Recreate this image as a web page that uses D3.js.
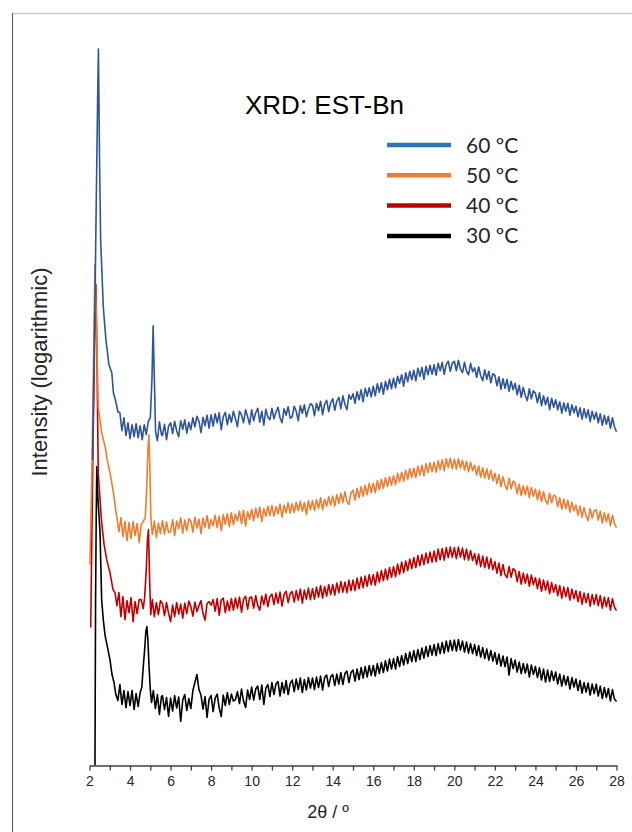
<!DOCTYPE html>
<html>
<head>
<meta charset="utf-8">
<script src="https://cdn.jsdelivr.net/npm/d3@7"></script>
<style>
  html, body { margin: 0; padding: 0; background: #fff; }
  svg { display: block; }
  .axis path, .axis line { stroke: #404040; }
  .axis text { font-family: "Liberation Sans", Arial, sans-serif; font-size: 14px; fill: #262626; }
</style>
</head>
<body>
<div id="chart"></div>
<script>
// 2θ ticks and legend entries
const X_TICKS = [2, 4, 6, 8, 10, 12, 14, 16, 18, 20, 22, 24, 26, 28];
const SERIES_NAMES = ['60 ºC', '50 ºC', '40 ºC', '30 ºC'];
const SERIES_COLORS = ['#2f5597', '#ed7d31', '#c00000', '#000000'];
const LEGEND_COLORS = ['#2e75b6', '#ed7d31', '#c00000', '#000000'];

// Low-angle part of each trace, [2θ, log intensity (offset, a.u.)]
const low60 = [[2.15, 61.2], [2.27, 93.2], [2.40, 133.2], [2.44, 143.4], [2.49, 123.2], [2.55, 105.2],
  [2.68, 91.8], [2.81, 85.2], [2.96, 80.2], [3.10, 78.6], [3.18, 74.6], [3.3, 72.8], [3.4, 70.8],
  [3.5, 70.6], [3.6, 67.0], [3.7, 69.6], [3.8, 66.0], [3.9, 68.6], [4.0, 65.4], [4.1, 68.2],
  [4.2, 65.8], [4.3, 68.4], [4.4, 65.6], [4.5, 68.0], [4.6, 65.2], [4.7, 68.2], [4.8, 66.2],
  [4.9, 68.8], [5.0, 69.6], [5.08, 77.2], [5.14, 88.0], [5.2, 77.2], [5.26, 66.8], [5.35, 65.0],
  [5.45, 68.8], [5.55, 66.2]];
const low50 = [[2.02, 40.2], [2.12, 59.2], [2.22, 87.2], [2.27, 100.2], [2.35, 87.2], [2.43, 71.8],
  [2.60, 66.6], [2.77, 63.8], [2.89, 60.8], [3.01, 58.6], [3.18, 54.6], [3.34, 49.8], [3.45, 46.8],
  [3.55, 49.6], [3.65, 45.8], [3.75, 48.8], [3.85, 45.0], [3.95, 48.6], [4.05, 45.4], [4.15, 48.8],
  [4.25, 46.0], [4.35, 48.4], [4.45, 44.6], [4.55, 48.2], [4.65, 48.8], [4.75, 49.6], [4.82, 55.2],
  [4.88, 63.2], [4.93, 66.2], [4.98, 59.2], [5.03, 49.2], [5.1, 46.2], [5.2, 48.9], [5.3, 45.6],
  [5.4, 48.5], [5.5, 46.4]];
const low40 = [[2.06, 27.6], [2.17, 63.2], [2.27, 89.2], [2.32, 96.2], [2.37, 81.2], [2.43, 58.6],
  [2.52, 53.2], [2.60, 48.6], [2.72, 44.2], [2.85, 41.2], [3.01, 38.6], [3.16, 35.2], [3.26, 34.6],
  [3.35, 32.0], [3.45, 34.6], [3.55, 29.8], [3.65, 33.8], [3.75, 29.2], [3.85, 33.0], [3.95, 30.6],
  [4.05, 33.6], [4.15, 28.8], [4.25, 32.8], [4.35, 30.4], [4.45, 33.2], [4.55, 33.2], [4.65, 31.4],
  [4.72, 33.6], [4.8, 39.2], [4.86, 45.2], [4.91, 47.2], [4.96, 38.2], [5.02, 30.2], [5.1, 33.2],
  [5.2, 29.8], [5.3, 32.6], [5.4, 30.2], [5.5, 33.0]];
const low30 = [[2.27, 0], [2.30, 33.2], [2.33, 49.2], [2.36, 59.8], [2.42, 53.2], [2.52, 46.6],
  [2.60, 33.2], [2.68, 29.2], [2.77, 26.0], [2.89, 23.6], [3.01, 21.2], [3.11, 18.2], [3.21, 16.6],
  [3.3, 14.2], [3.4, 13.0], [3.5, 16.2], [3.6, 12.2], [3.7, 15.0], [3.8, 11.6], [3.9, 14.8],
  [4.0, 12.0], [4.1, 15.0], [4.2, 11.2], [4.3, 14.4], [4.4, 11.8], [4.5, 14.6], [4.58, 15.6],
  [4.65, 19.6], [4.72, 23.2], [4.78, 26.8], [4.83, 27.8], [4.88, 25.2], [4.94, 19.6], [5.0, 15.2],
  [5.06, 12.6], [5.15, 15.0], [5.25, 11.4], [5.35, 14.2], [5.45, 10.2], [5.55, 13.8]];

// Rest of each trace, read every 0.1° from 5.6° to 28.0°
const BASE_START = 5.6;
const BASE_STEP = 0.1;
const base60 = [
  66.0, 68.3, 65.2, 67.9,
  68.6, 66.4, 68.9, 67.0, 65.8, 69.0, 67.3, 69.2, 66.5, 68.7,
  67.2, 69.6, 67.8, 69.9, 68.9, 66.6, 69.7, 68.0, 70.1, 67.5,
  70.2, 67.9, 70.4, 68.6, 70.6, 67.2, 69.8, 70.7, 68.2, 70.3,
  68.7, 70.9, 69.4, 67.8, 70.9, 70.1, 68.6, 71.2, 69.8, 68.3,
  71.2, 69.0, 70.6, 71.5, 68.7, 70.9, 68.1, 71.3, 69.7, 69.2,
  71.5, 69.4, 70.7, 71.7, 69.6, 68.6, 71.4, 70.1, 71.8, 69.5,
  69.8, 71.9, 70.9, 69.0, 72.0, 70.5, 72.2, 69.8, 71.3, 72.4,
  72.1, 70.0, 72.5, 71.0, 72.9, 70.2, 72.3, 73.1, 70.8, 72.6,
  73.4, 71.1, 72.9, 73.7, 71.4, 74.0, 72.3, 71.2, 74.2, 73.3,
  74.4, 72.5, 74.8, 73.2, 75.2, 72.8, 75.5, 73.9, 75.6, 73.8,
  75.9, 74.0, 76.4, 74.7, 76.6, 74.3, 76.9, 75.2, 77.3, 75.4,
  77.5, 75.6, 77.9, 76.5, 78.2, 75.9, 78.6, 76.8, 78.9, 77.2,
  79.1, 77.0, 79.5, 77.9, 79.7, 77.3, 79.9, 78.2, 80.1, 78.3,
  80.2, 78.1, 80.5, 79.0, 80.7, 78.3, 80.3, 80.9, 78.9, 80.6,
  80.9, 79.0, 81.1, 79.4, 78.6, 80.7, 78.9, 78.2, 80.5, 78.8,
  79.6, 77.7, 79.8, 78.0, 77.0, 79.2, 77.3, 78.9, 76.6, 78.4,
  78.1, 76.0, 77.8, 75.3, 77.4, 75.5, 77.3, 74.9, 76.9, 75.2,
  76.5, 74.2, 76.1, 73.7, 75.7, 74.0, 73.0, 75.4, 73.4, 75.0,
  74.5, 72.6, 74.6, 72.0, 74.0, 72.2, 73.7, 71.2, 73.5, 71.7,
  73.2, 71.2, 72.8, 70.5, 72.6, 70.9, 72.5, 70.1, 72.2, 70.6,
  71.9, 69.8, 71.6, 69.3, 71.4, 69.6, 71.2, 68.8, 70.9, 69.3,
  70.7, 68.6, 70.4, 68.1, 70.1, 68.3, 69.9, 67.5, 69.6, 67.8,
  66.8];
const base50 = [
  49.0, 46.3, 48.7, 46.6,
  46.8, 49.2, 46.0, 48.9, 47.4, 49.6, 46.5, 49.1, 47.0, 49.4,
  48.9, 46.7, 49.7, 47.5, 49.3, 46.4, 49.5, 47.7, 50.0, 47.4,
  49.2, 48.0, 50.1, 47.6, 49.9, 47.0, 50.2, 48.3, 50.4, 47.8,
  50.6, 48.2, 50.3, 49.0, 50.9, 48.4, 51.1, 47.9, 50.8, 49.3,
  51.3, 49.0, 51.5, 49.6, 51.7, 48.8, 51.4, 49.9, 51.9, 50.0,
  52.0, 49.9, 51.8, 50.4, 52.3, 49.7, 52.1, 50.6, 52.6, 50.5,
  52.4, 50.6, 52.7, 51.0, 52.9, 50.9, 52.6, 50.2, 53.0, 51.2,
  53.0, 51.0, 53.2, 51.4, 53.6, 51.2, 53.3, 51.9, 53.8, 52.1,
  53.9, 51.9, 54.2, 52.4, 54.5, 52.6, 54.8, 52.9, 52.2, 54.6,
  55.1, 53.1, 55.5, 53.6, 55.8, 53.9, 56.1, 54.2, 56.5, 54.6,
  56.5, 54.6, 57.0, 55.2, 57.3, 55.5, 57.6, 55.8, 57.8, 56.1,
  58.0, 56.2, 58.5, 56.8, 58.7, 56.9, 59.1, 57.3, 59.4, 57.7,
  59.5, 57.6, 59.9, 58.1, 60.1, 58.0, 60.4, 58.6, 60.6, 58.8,
  60.7, 58.7, 61.0, 59.2, 61.2, 59.0, 61.4, 59.6, 61.5, 59.4,
  61.3, 59.3, 61.4, 59.5, 61.1, 59.1, 60.9, 58.8, 60.7, 59.0,
  60.1, 58.1, 60.0, 57.7, 59.6, 57.5, 59.4, 57.3, 59.1, 57.0,
  58.5, 56.4, 58.2, 55.8, 57.8, 56.1, 55.2, 57.5, 55.4, 56.9,
  56.5, 54.4, 56.3, 54.0, 56.0, 54.2, 55.9, 53.6, 55.6, 53.9,
  55.3, 53.2, 55.1, 52.8, 54.8, 53.0, 52.3, 54.5, 52.6, 54.1,
  53.9, 51.8, 53.6, 51.3, 53.3, 51.4, 53.1, 50.7, 52.7, 51.0,
  52.1, 50.1, 51.9, 49.7, 51.6, 49.9, 49.0, 51.4, 49.5, 51.0,
  51.2, 49.1, 50.9, 48.5, 50.6, 48.8, 50.4, 48.0, 50.1, 48.4,
  47.6];
const base40 = [
  32.4, 30.0, 32.6, 30.5,
  28.8, 32.1, 29.8, 32.6, 30.3, 32.3, 29.5, 32.5, 30.4, 32.9,
  31.8, 29.9, 32.7, 30.8, 32.0, 33.0, 30.4, 29.1, 32.4, 32.8,
  32.1, 33.2, 30.9, 33.4, 30.1, 33.1, 33.5, 30.6, 32.9, 31.0,
  33.4, 31.1, 33.5, 31.5, 33.7, 30.7, 33.3, 33.9, 31.3, 33.6,
  33.7, 31.5, 34.0, 32.0, 31.1, 33.9, 32.2, 34.3, 31.8, 33.8,
  34.3, 32.2, 34.5, 32.5, 34.7, 31.9, 34.2, 34.9, 32.6, 34.4,
  34.8, 32.7, 35.0, 33.1, 35.3, 32.5, 35.1, 33.3, 35.5, 33.2,
  35.4, 33.3, 35.7, 33.7, 36.0, 33.5, 35.8, 33.9, 36.2, 34.2,
  36.2, 34.1, 36.5, 34.6, 36.8, 34.7, 36.7, 34.6, 37.1, 35.0,
  37.1, 35.0, 37.5, 35.4, 37.7, 35.6, 37.9, 35.9, 38.2, 36.2,
  38.2, 36.1, 38.7, 36.7, 39.0, 37.0, 39.3, 37.2, 39.6, 37.7,
  39.8, 37.8, 40.3, 38.3, 40.7, 38.6, 40.9, 39.0, 41.3, 39.4,
  41.6, 39.6, 42.0, 40.0, 42.2, 40.2, 42.5, 40.5, 42.7, 40.7,
  42.9, 40.8, 43.3, 41.2, 43.4, 41.1, 43.6, 41.6, 43.7, 41.7,
  43.6, 41.4, 43.7, 41.7, 43.5, 41.2, 43.3, 41.1, 43.0, 41.0,
  42.4, 40.2, 42.3, 39.8, 41.9, 39.6, 41.7, 39.4, 41.4, 39.2,
  40.8, 38.5, 40.5, 38.0, 40.2, 38.2, 37.6, 39.8, 37.7, 39.4,
  39.0, 36.8, 38.8, 36.3, 38.5, 36.5, 38.3, 35.9, 38.1, 36.2,
  37.6, 35.4, 37.4, 34.9, 37.1, 35.1, 36.9, 34.4, 36.6, 34.7,
  36.2, 34.0, 36.0, 33.5, 35.7, 33.8, 35.6, 33.1, 35.3, 33.4,
  35.0, 32.8, 34.8, 32.3, 34.5, 32.6, 34.4, 31.9, 34.2, 32.3,
  34.2, 32.0, 34.0, 31.5, 33.7, 31.8, 33.6, 31.1, 33.4, 31.7,
  31.0];
const base30 = [
  14.0, 11.2, 13.6, 9.8,
  13.5, 10.9, 14.0, 11.5, 13.7, 8.8, 13.1, 14.2, 11.0, 13.4,
  11.4, 15.0, 16.6, 18.2, 15.2, 14.1, 11.3, 13.8, 9.6, 13.3,
  14.0, 10.8, 13.5, 14.3, 11.5, 9.8, 14.1, 12.0, 14.6, 12.2,
  14.3, 12.9, 13.2, 14.8, 12.4, 15.3, 12.9, 11.6, 15.1, 13.2,
  15.7, 13.1, 15.3, 15.9, 13.2, 16.1, 12.2, 15.5, 16.2, 13.8,
  16.6, 14.2, 16.3, 16.8, 13.9, 16.6, 14.5, 17.0, 14.2, 16.4,
  17.1, 14.8, 17.3, 15.2, 17.5, 14.6, 17.2, 15.1, 17.6, 15.5,
  17.5, 15.2, 17.7, 15.6, 17.9, 15.1, 17.6, 18.1, 15.8, 17.8,
  18.2, 16.0, 18.3, 16.3, 18.6, 16.2, 18.4, 18.9, 16.6, 18.6,
  19.1, 16.9, 19.3, 17.2, 19.6, 17.5, 19.8, 17.7, 20.0, 18.0,
  20.0, 17.9, 20.4, 18.4, 20.6, 18.6, 21.0, 18.9, 21.3, 19.3,
  21.4, 19.3, 21.8, 19.8, 22.0, 20.1, 22.4, 20.4, 22.7, 20.8,
  23.0, 20.8, 23.2, 21.2, 23.5, 21.5, 23.8, 21.8, 24.0, 22.1,
  24.2, 22.0, 24.4, 22.4, 24.6, 22.5, 24.9, 22.8, 25.0, 23.0,
  25.1, 22.9, 25.2, 23.1, 24.9, 22.7, 24.7, 22.5, 24.4, 22.4,
  24.2, 22.0, 24.0, 21.7, 23.6, 21.4, 23.3, 21.1, 23.0, 20.9,
  22.6, 20.3, 22.3, 19.9, 21.9, 19.8, 21.7, 18.1, 21.4, 19.4,
  21.1, 18.7, 20.7, 18.4, 20.4, 18.5, 20.3, 17.7, 20.1, 18.2,
  19.8, 17.6, 19.6, 17.1, 19.3, 16.7, 19.1, 16.8, 18.9, 17.0,
  18.7, 16.3, 18.3, 15.9, 18.0, 16.1, 17.8, 15.3, 17.6, 15.7,
  17.3, 15.0, 17.0, 14.5, 16.6, 14.7, 16.5, 14.1, 16.3, 14.4,
  16.3, 13.9, 15.9, 13.4, 15.6, 13.6, 15.4, 12.9, 15.2, 13.3,
  12.8];

const WIDTH = 632;
const HEIGHT = 832;
const PLOT = { left: 89.5, right: 616.5, top: 16, bottom: 765.5 };

function buildSeries(low, base) {
  const pts = low.map(d => ({ x: d[0], y: d[1] }));
  base.forEach((v, i) => pts.push({ x: +(BASE_START + i * BASE_STEP).toFixed(2), y: v }));
  return pts;
}

const series = [
  buildSeries(low60, base60),
  buildSeries(low50, base50),
  buildSeries(low40, base40),
  buildSeries(low30, base30)
];

const svg = d3.select('#chart').append('svg')
  .attr('width', WIDTH)
  .attr('height', HEIGHT)
  .attr('viewBox', `0 0 ${WIDTH} ${HEIGHT}`);

// Frame edges visible in the cropped figure
svg.append('line')
  .attr('x1', 12).attr('x2', WIDTH).attr('y1', 13.5).attr('y2', 13.5)
  .attr('stroke', '#c8c8c8').attr('stroke-width', 1.5);
svg.append('line')
  .attr('x1', 12.5).attr('x2', 12.5).attr('y1', 13).attr('y2', HEIGHT)
  .attr('stroke', '#595959').attr('stroke-width', 1);

const xScale = d3.scaleLinear().domain([2, 28]).range([PLOT.left, PLOT.right]);
const yScale = d3.scaleLinear().domain([0, 150]).range([PLOT.bottom, PLOT.top]);

const line = d3.line()
  .x(d => xScale(d.x))
  .y(d => yScale(d.y));

// Draw 30 ºC first so the hotter traces sit on top
for (let i = series.length - 1; i >= 0; i--) {
  svg.append('path')
    .datum(series[i])
    .attr('fill', 'none')
    .attr('stroke', SERIES_COLORS[i])
    .attr('stroke-width', 1.6)
    .attr('stroke-linejoin', 'round')
    .attr('d', line);
}

// Bottom axis: minor ticks every degree, labels every 2
const xAxis = svg.append('g')
  .attr('class', 'axis')
  .attr('transform', `translate(0,${PLOT.bottom})`)
  .call(d3.axisBottom(xScale)
    .tickValues(d3.range(2, 29, 1))
    .tickSize(5)
    .tickSizeOuter(0)
    .tickPadding(6)
    .tickFormat(d => X_TICKS.includes(d) ? d : ''));
xAxis.select('.domain').attr('stroke-width', 1.3);
xAxis.selectAll('.tick line').attr('stroke-width', 1.3);

svg.append('text')
  .attr('x', 328)
  .attr('y', 818)
  .attr('text-anchor', 'middle')
  .style('font-family', '"Liberation Sans", Arial, sans-serif')
  .style('font-size', '18px')
  .attr('fill', '#262626')
  .text('2θ / º');

svg.append('text')
  .attr('transform', 'translate(47,372) rotate(-90)')
  .attr('text-anchor', 'middle')
  .style('font-family', '"Liberation Sans", Arial, sans-serif')
  .style('font-size', '22px')
  .attr('fill', '#262626')
  .text('Intensity (logarithmic)');

// Title
svg.append('text')
  .attr('x', 245)
  .attr('y', 114)
  .style('font-family', '"Liberation Sans", Arial, sans-serif')
  .style('font-size', '26px')
  .attr('fill', '#000')
  .text('XRD: EST-Bn');

// Legend
const legend = svg.append('g').attr('transform', 'translate(387,145)');
SERIES_NAMES.forEach((name, i) => {
  const row = legend.append('g').attr('transform', `translate(0,${i * 30.3})`);
  row.append('line')
    .attr('x1', 0).attr('x2', 64)
    .attr('stroke', LEGEND_COLORS[i])
    .attr('stroke-width', 4.5);
  row.append('text')
    .attr('x', 79)
    .attr('y', 7.5)
    .style('font-family', 'Lato, "Open Sans", sans-serif')
    .style('font-size', '21px')
    .attr('fill', '#262626')
    .text(name);
});
</script>
</body>
</html>
